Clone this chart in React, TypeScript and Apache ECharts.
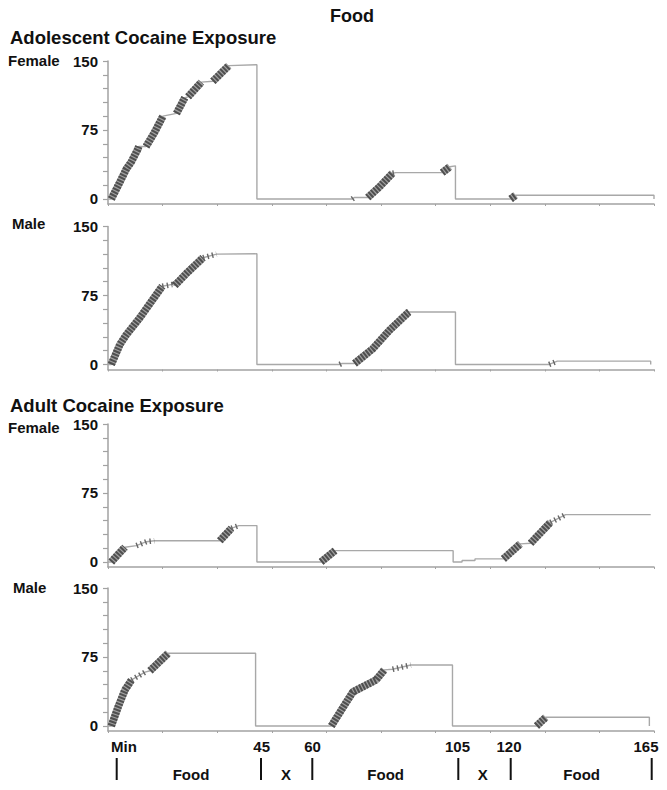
import React, { useEffect, useRef } from "react";
import * as echarts from "echarts";

// Cumulative records: [minute, cumulative responses, mark]
// mark of the segment ending at the point: 0 = no responding, 1 = dense burst of responses, 2 = sparse responses
const adolescentFemale: number[][] = [
  [0, 0, 0], [1, 0, 0], [3, 14, 1], [5.6, 33, 1], [7, 40, 1], [9, 54, 1], [9.3, 57, 1],
  [11.5, 57, 0], [14, 72, 1], [16.6, 90, 1], [20.7, 93, 0], [23.2, 110, 1], [24.2, 111, 0],
  [28.2, 127, 1], [31.7, 128, 0], [36.5, 145, 1], [45, 146, 0], [45, 0, 0],
  [73.8, 0, 0], [74.4, 1.5, 2], [78.5, 1.5, 0], [82, 13, 1], [86, 28, 1], [87, 28.6, 2],
  [101, 28.6, 0], [103.3, 35, 1], [105, 36, 0], [105, 0, 0],
  [121.7, 0, 0], [123.2, 4, 1], [165, 4, 0], [165, 0, 0],
];

const adolescentMale: number[][] = [
  [0, 0, 0], [1, 0, 0], [3.6, 21.7, 1], [5.6, 32.6, 1], [9.6, 50.7, 1], [15.7, 81.5, 1], [16.4, 85, 1],
  [19.4, 87, 2], [20.2, 86, 2], [24, 100, 1], [28.7, 116, 1], [32.8, 120, 2], [45, 120.3, 0], [45, 0, 0],
  [70, 0, 0], [70.6, 1, 2], [74.5, 1, 0], [80, 17, 1], [85, 37, 1], [90.6, 56, 1], [91, 57, 1],
  [105, 57, 0], [105, 0, 0],
  [133.3, 0, 0], [135.8, 3.6, 2], [164, 3.6, 0], [164, 0, 0],
];

const adultFemale: number[][] = [
  [0, 0, 0], [1, 0, 0], [3, 8, 1], [5.1, 16, 1], [8.6, 17.7, 0], [11.6, 22, 2], [14, 23, 2],
  [33.8, 23, 0], [37.3, 36.6, 1], [39.5, 39.5, 2], [45, 39.5, 0], [45, 0, 0],
  [64.4, 0, 0], [68.6, 12.3, 1], [104.3, 12.3, 0], [104.3, 0, 0], [107, 0, 0], [107, 1.5, 0],
  [110.9, 1.5, 0], [110.9, 3.3, 0], [119.5, 3.3, 0], [124.6, 19.6, 1], [127.7, 20.3, 0],
  [133.7, 43, 1], [138.3, 51.4, 2], [164, 51.4, 0],
];

const adultMale: number[][] = [
  [0, 0, 0], [1, 0, 0], [3.1, 21, 1], [5.1, 39, 1], [7.1, 50, 1], [11.2, 58.6, 2], [12.7, 60, 0],
  [18.2, 79, 1], [44.6, 79, 0], [44.6, 0, 0],
  [67.5, 0, 0], [71, 20, 1], [74, 37, 1], [81, 50, 1], [83.5, 61, 1], [86, 61.6, 0], [91.5, 66.3, 2],
  [104.1, 66.3, 0], [104.1, 0, 0],
  [129.5, 0, 0], [132.3, 9.4, 1], [163.6, 9.4, 0], [163.6, 0, 0],
];

const records = [adolescentFemale, adolescentMale, adultFemale, adultMale];
const panelNames = ["Female", "Male", "Female", "Male"];
const groupTitles = ["Adolescent Cocaine Exposure", "Adult Cocaine Exposure"];
const chartTitle = "Food";
const yLabelValues = [0, 75, 150];
const yTickValues = [0, 15, 30, 45, 60, 75, 90, 105, 120, 135, 150];
const boundaryLabels = ["Min", "45", "60", "105", "120", "165"];
const phaseLabels = ["Food", "X", "Food", "X", "Food"];

const FONT = '"Liberation Sans", Arial, Helvetica, sans-serif';
const AXIS_GRAY = "#a2a2a2";

const panelTops = [61, 226.5, 424, 588];
const panelNameLayout = [
  { x: 8, y: 60 },
  { x: 12, y: 223 },
  { x: 8, y: 427 },
  { x: 13, y: 587 },
];
const groupTitleLayout = [
  { x: 10, y: 37 },
  { x: 10, y: 405 },
];
const boundaryLabelX = [124, 261.7, 312.5, 457.5, 509, 646];
const boundaryBarX = [116.7, 261, 312.3, 458.3, 510.7, 651.7];
const phaseLabelX = [191, 286, 385.7, 482.7, 581.7];

function buildSeries(rec: number[][], idx: number): any[] {
  const out: any[] = [];
  out.push({
    type: "line",
    xAxisIndex: idx,
    yAxisIndex: idx,
    data: rec.map((p) => [p[0], p[1]]),
    symbol: "none",
    showSymbol: false,
    silent: true,
    z: 2,
    lineStyle: { color: "#a8a8a8", width: 1.4 },
  });
  let i = 1;
  while (i < rec.length) {
    const k = rec[i][2];
    if (k === 0) {
      i++;
      continue;
    }
    const pts: number[][] = [[rec[i - 1][0], rec[i - 1][1]]];
    while (i < rec.length && rec[i][2] === k) {
      pts.push([rec[i][0], rec[i][1]]);
      i++;
    }
    if (k === 1) {
      out.push({
        type: "line",
        xAxisIndex: idx,
        yAxisIndex: idx,
        data: pts,
        symbol: "none",
        silent: true,
        z: 3,
        lineStyle: { color: "#a0a0a0", width: 7.5, cap: "butt", join: "bevel" },
      });
      out.push({
        type: "line",
        xAxisIndex: idx,
        yAxisIndex: idx,
        data: pts,
        symbol: "none",
        silent: true,
        z: 4,
        lineStyle: { color: "#4f4f4f", width: 7.5, type: [2, 1.2], cap: "butt", join: "bevel" },
      });
    } else {
      out.push({
        type: "line",
        xAxisIndex: idx,
        yAxisIndex: idx,
        data: pts,
        symbol: "none",
        silent: true,
        z: 4,
        lineStyle: { color: "#666", width: 5.5, type: [1.4, 3.2], cap: "butt", join: "bevel" },
      });
    }
  }
  return out;
}

export default function App() {
  const ref = useRef<HTMLDivElement>(null);

  useEffect(() => {
    if (!ref.current) return;
    const chart = echarts.init(ref.current, undefined, { renderer: "svg" });

    const grids = panelTops.map((top) => ({ left: 108, top, width: 546, height: 143 }));
    const xAxes = panelTops.map((_, i) => ({
      type: "value",
      gridIndex: i,
      min: 0,
      max: 165,
      interval: 16.5,
      axisLine: { show: true, onZero: false, lineStyle: { color: AXIS_GRAY, width: 1.5 } },
      axisTick: { show: true, length: 2, lineStyle: { color: AXIS_GRAY, width: 1 } },
      axisLabel: { show: false },
      splitLine: { show: false },
    }));
    const yAxes = panelTops.map((_, i) => ({
      type: "value",
      gridIndex: i,
      min: -5.5,
      max: 150,
      axisLine: { show: true, onZero: false, lineStyle: { color: AXIS_GRAY, width: 1.5 } },
      axisTick: {
        show: true,
        length: 5,
        customValues: yTickValues,
        lineStyle: { color: AXIS_GRAY, width: 1.2 },
      },
      axisLabel: {
        show: true,
        customValues: yLabelValues,
        margin: 10,
        fontFamily: FONT,
        fontWeight: "bold",
        fontSize: 15,
        color: "#111",
      },
      splitLine: { show: false },
    }));

    const series: any[] = [];
    records.forEach((rec, i) => series.push(...buildSeries(rec, i)));

    const textStyle = (size: number) => ({
      font: `bold ${size}px ${FONT}`,
      fill: "#111",
    });

    const graphic: any[] = [];
    graphic.push({
      type: "text",
      x: 352,
      y: 16,
      style: { ...textStyle(18), text: chartTitle, textAlign: "center", textVerticalAlign: "middle" },
    });
    groupTitles.forEach((t, i) =>
      graphic.push({
        type: "text",
        x: groupTitleLayout[i].x,
        y: groupTitleLayout[i].y,
        style: { ...textStyle(18.5), text: t, textAlign: "left", textVerticalAlign: "middle" },
      })
    );
    panelNames.forEach((t, i) =>
      graphic.push({
        type: "text",
        x: panelNameLayout[i].x,
        y: panelNameLayout[i].y,
        style: { ...textStyle(15), text: t, textAlign: "left", textVerticalAlign: "middle" },
      })
    );
    boundaryLabels.forEach((t, i) => {
      graphic.push({
        type: "text",
        x: boundaryLabelX[i],
        y: 746,
        style: { ...textStyle(15), text: t, textAlign: "center", textVerticalAlign: "middle" },
      });
      graphic.push({
        type: "line",
        shape: { x1: boundaryBarX[i], y1: 758, x2: boundaryBarX[i], y2: 780 },
        style: { stroke: "#111", lineWidth: 2 },
      });
    });
    phaseLabels.forEach((t, i) =>
      graphic.push({
        type: "text",
        x: phaseLabelX[i],
        y: 774.5,
        style: { ...textStyle(15), text: t, textAlign: "center", textVerticalAlign: "middle" },
      })
    );

    chart.setOption({
      animation: false,
      backgroundColor: "#fff",
      grid: grids,
      xAxis: xAxes,
      yAxis: yAxes,
      series,
      graphic,
    });

    return () => chart.dispose();
  }, []);

  return (
    <div
      ref={ref}
      style={{ position: "absolute", left: 0, top: 0, width: 667, height: 790, background: "#fff" }}
    />
  );
}
